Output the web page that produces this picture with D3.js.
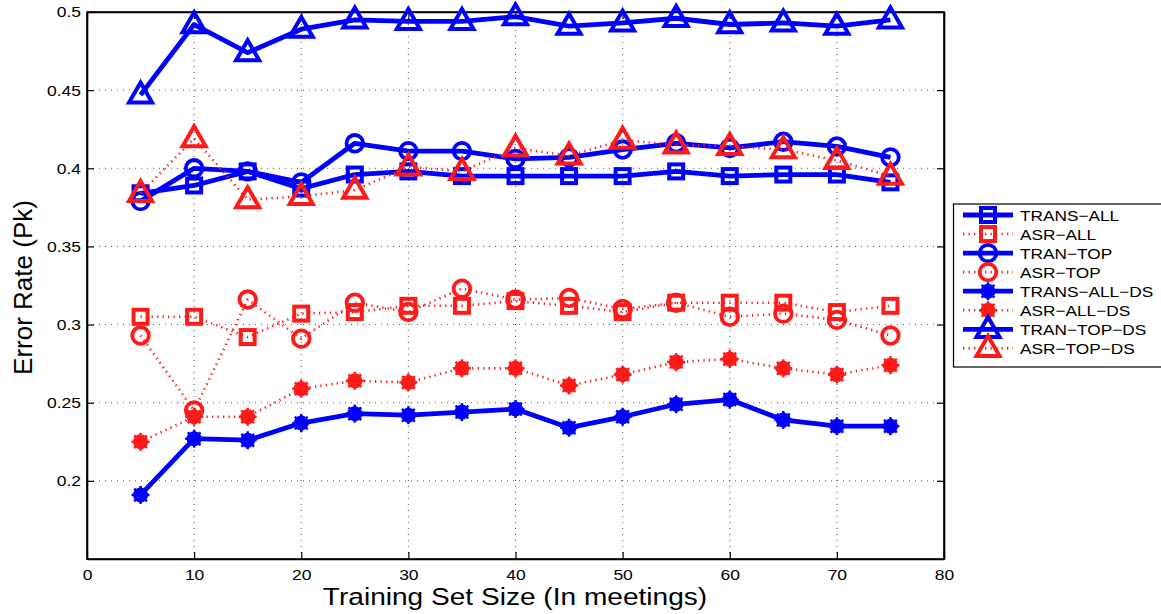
<!DOCTYPE html>
<html>
<head>
<meta charset="utf-8">
<script src="https://cdn.jsdelivr.net/npm/d3@7"></script>
<style>
  html, body { margin: 0; padding: 0; background: #fff; }
  svg { display: block; font-family: "Liberation Sans", Arial, sans-serif; }
</style>
</head>
<body>
<svg id="chart" width="1161" height="614"></svg>
<script>
// Training set sizes (meetings)
const sizes = [5, 10, 15, 20, 25, 30, 35, 40, 45, 50, 55, 60, 65, 70, 75];

// Pk error rate per series
const transAll   = [0.384, 0.389, 0.398, 0.387, 0.396, 0.398, 0.395, 0.395, 0.395, 0.395, 0.398, 0.395, 0.396, 0.396, 0.391];
const asrAll     = [0.305, 0.305, 0.292, 0.307, 0.308, 0.312, 0.312, 0.315, 0.312, 0.308, 0.314, 0.314, 0.314, 0.308, 0.312];
const tranTop    = [0.379, 0.400, 0.398, 0.391, 0.416, 0.411, 0.411, 0.406, 0.407, 0.412, 0.416, 0.413, 0.417, 0.414, 0.407];
const asrTop     = [0.293, 0.245, 0.316, 0.291, 0.314, 0.308, 0.323, 0.316, 0.317, 0.310, 0.314, 0.305, 0.307, 0.303, 0.293];
const transAllDs = [0.191, 0.227, 0.226, 0.237, 0.243, 0.242, 0.244, 0.246, 0.234, 0.241, 0.249, 0.252, 0.239, 0.235, 0.235];
const asrAllDs   = [0.225, 0.241, 0.241, 0.259, 0.264, 0.263, 0.272, 0.272, 0.261, 0.268, 0.276, 0.278, 0.272, 0.268, 0.274];
const tranTopDs  = [0.447, 0.492, 0.474, 0.489, 0.495, 0.494, 0.494, 0.497, 0.491, 0.493, 0.496, 0.492, 0.493, 0.491, 0.495];
const asrTopDs   = [0.384, 0.419, 0.380, 0.382, 0.386, 0.401, 0.398, 0.413, 0.408, 0.418, 0.415, 0.414, 0.412, 0.405, 0.395];

const seriesNames = ["TRANS\u2212ALL", "ASR\u2212ALL", "TRAN\u2212TOP", "ASR\u2212TOP",
                     "TRANS\u2212ALL\u2212DS", "ASR\u2212ALL\u2212DS", "TRAN\u2212TOP\u2212DS", "ASR\u2212TOP\u2212DS"];
const seriesValues = [transAll, asrAll, tranTop, asrTop, transAllDs, asrAllDs, tranTopDs, asrTopDs];
const seriesMarkers = ["square", "square", "circle", "circle", "star", "star", "triangle", "triangle"];
const seriesKinds = ["trans", "asr", "trans", "asr", "trans", "asr", "trans", "asr"];

const xTicks = [0, 10, 20, 30, 40, 50, 60, 70, 80];
const yTicks = [0.2, 0.25, 0.3, 0.35, 0.4, 0.45, 0.5];

const svg = d3.select("#chart");
const plot = { left: 87, right: 944, top: 12, bottom: 559 };
const TEXT_SX = 1.13; // slightly wide lettering

const x = d3.scaleLinear().domain([0, 80]).range([plot.left, plot.right]);
const y = d3.scaleLinear().domain([0.15, 0.5]).range([plot.bottom, plot.top]);

const styles = {
  trans: { color: "#0000ff", width: 4.8, dash: null },
  asr:   { color: "#ff1a1a", width: 2.6, dash: "1.3,4.2" }
};

// grid
const grid = svg.append("g");
grid.selectAll("line.gx").data(xTicks.filter(t => t > 0 && t < 80)).join("line")
  .attr("x1", d => x(d)).attr("x2", d => x(d))
  .attr("y1", plot.top).attr("y2", plot.bottom)
  .attr("stroke", "#555").attr("stroke-width", 1).attr("stroke-dasharray", "1,5");
grid.selectAll("line.gy").data(yTicks.filter(t => t < 0.5)).join("line")
  .attr("x1", plot.left).attr("x2", plot.right)
  .attr("y1", d => y(d)).attr("y2", d => y(d))
  .attr("stroke", "#555").attr("stroke-width", 1).attr("stroke-dasharray", "1,5");

// axes with inward ticks on all four sides
const axisG = svg.append("g");
const gBottom = axisG.append("g").attr("transform", `translate(0,${plot.bottom})`)
  .call(d3.axisBottom(x).tickValues(xTicks).tickSizeInner(-7).tickSizeOuter(0).tickPadding(10).tickFormat(d3.format("d")));
axisG.append("g").attr("transform", `translate(0,${plot.top})`)
  .call(d3.axisTop(x).tickValues(xTicks).tickSizeInner(-7).tickSizeOuter(0).tickFormat(""));
const gLeft = axisG.append("g").attr("transform", `translate(${plot.left},0)`)
  .call(d3.axisLeft(y).tickValues(yTicks).tickSizeInner(-7).tickSizeOuter(0).tickPadding(5.3).tickFormat(d => String(+d.toFixed(2))));
axisG.append("g").attr("transform", `translate(${plot.right},0)`)
  .call(d3.axisRight(y).tickValues(yTicks).tickSizeInner(-7).tickSizeOuter(0).tickFormat(""));
axisG.selectAll(".domain").attr("stroke", "#000").attr("stroke-width", 1.6);
axisG.selectAll(".tick line").attr("stroke", "#000").attr("stroke-width", 1.2);
axisG.selectAll(".tick text").attr("font-size", 15.5).attr("fill", "#000")
  .attr("font-family", "Liberation Sans, Arial, sans-serif")
  .attr("transform", `scale(${TEXT_SX},1)`);
svg.append("rect").attr("x", plot.left).attr("y", plot.top)
  .attr("width", plot.right - plot.left).attr("height", plot.bottom - plot.top)
  .attr("fill", "none").attr("stroke", "#000").attr("stroke-width", 1.6);

// marker drawing
function drawMarker(g, type, color, cx, cy) {
  if (type === "square") {
    g.append("rect").attr("x", cx - 7).attr("y", cy - 7).attr("width", 14).attr("height", 14)
      .attr("fill", "none").attr("stroke", color).attr("stroke-width", 4);
  } else if (type === "circle") {
    g.append("circle").attr("cx", cx).attr("cy", cy).attr("r", 8.3)
      .attr("fill", "none").attr("stroke", color).attr("stroke-width", 3.8);
  } else if (type === "triangle") {
    const s = d3.symbol().type(d3.symbolTriangle).size(230);
    g.append("path").attr("d", s()).attr("transform", `translate(${cx},${cy + 1})`)
      .attr("fill", "none").attr("stroke", color).attr("stroke-width", 4).attr("stroke-linejoin", "miter");
  } else if (type === "star") {
    g.append("circle").attr("cx", cx).attr("cy", cy).attr("r", 7.5).attr("fill", color);
    const sg = g.append("g").attr("stroke", color).attr("stroke-width", 2.5);
    for (let k = 0; k < 4; k++) {
      const a = k * Math.PI / 4;
      sg.append("line")
        .attr("x1", cx - 9 * Math.cos(a)).attr("y1", cy - 9 * Math.sin(a))
        .attr("x2", cx + 9 * Math.cos(a)).attr("y2", cy + 9 * Math.sin(a));
    }
  }
}

const line = d3.line().x(d => x(d[0])).y(d => y(d[1]));

seriesValues.forEach((vals, i) => {
  const st = styles[seriesKinds[i]];
  const pts = sizes.map((s, j) => [s, vals[j]]);
  const g = svg.append("g");
  g.append("path").datum(pts).attr("d", line)
    .attr("fill", "none").attr("stroke", st.color).attr("stroke-width", st.width)
    .attr("stroke-dasharray", st.dash).attr("stroke-linejoin", "round");
  pts.forEach(p => drawMarker(g, seriesMarkers[i], st.color, x(p[0]), y(p[1])));
});

// axis titles
svg.append("text")
  .attr("transform", `translate(${(plot.left + plot.right) / 2 - 0.5},605) scale(1.17,1)`)
  .attr("text-anchor", "middle").attr("font-size", 24).text("Training Set Size (In meetings)");
svg.append("text").attr("transform", `translate(32,${(plot.top + plot.bottom) / 2 + 2}) rotate(-90)`)
  .attr("text-anchor", "middle").attr("font-size", 26).text("Error Rate (Pk)");

// legend
const lg = svg.append("g");
lg.append("rect").attr("x", 953.5).attr("y", 204).attr("width", 220).attr("height", 163)
  .attr("fill", "#fff").attr("stroke", "#000").attr("stroke-width", 1.2);
seriesNames.forEach((name, i) => {
  const st = styles[seriesKinds[i]];
  const ly = 215 + i * 19.05;
  lg.append("line").attr("x1", 963).attr("x2", 1013).attr("y1", ly).attr("y2", ly)
    .attr("stroke", st.color).attr("stroke-width", st.width).attr("stroke-dasharray", st.dash);
  drawMarker(lg, seriesMarkers[i], st.color, 988, ly);
  lg.append("text").attr("transform", `translate(1020,${ly + 5.5}) scale(1.15,1)`)
    .attr("font-size", 15).text(name);
});
</script>
</body>
</html>
